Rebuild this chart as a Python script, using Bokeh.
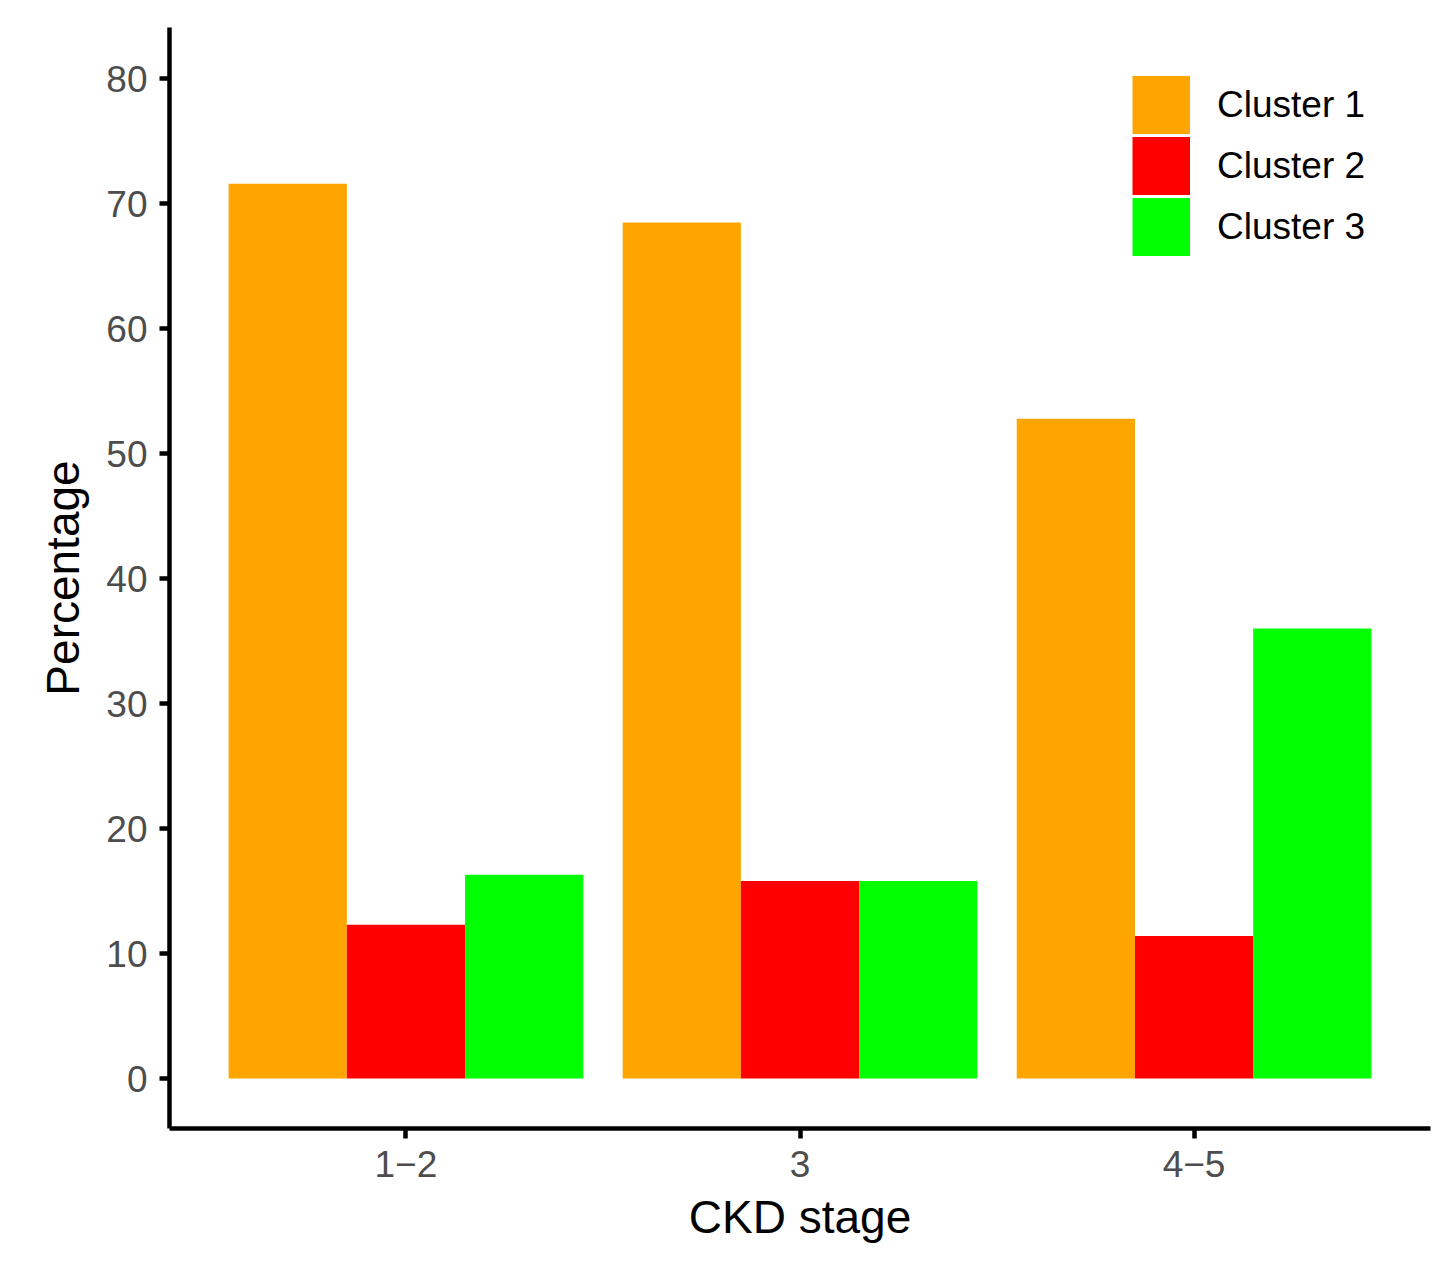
from bokeh.plotting import figure
from bokeh.models import ColumnDataSource, FactorRange, Range1d, FixedTicker, Legend, LegendItem
from bokeh.transform import dodge
from bokeh.embed import file_html
from bokeh.resources import INLINE

# ---- data ----
stages = ["1\u22122", "3", "4\u22125"]
cluster_names = ["Cluster 1", "Cluster 2", "Cluster 3"]
cluster1 = [71.6, 68.5, 52.8]
cluster2 = [12.3, 15.8, 11.4]
cluster3 = [16.3, 15.8, 36.0]
y_ticks = [0, 10, 20, 30, 40, 50, 60, 70, 80]
colors = ["#FFA500", "#FF0000", "#00FF00"]

source = ColumnDataSource(dict(stage=stages, c1=cluster1, c2=cluster2, c3=cluster3))

p = figure(
    width=1447, height=1262,
    x_range=FactorRange(factors=stages, range_padding=0.2 / 3, range_padding_units="percent"),
    y_range=Range1d(-4, 84.1),
    output_backend="svg", toolbar_location=None,
    min_border_left=169, min_border_right=17, min_border_top=27, min_border_bottom=134,
    background_fill_color="white", border_fill_color="white",
)

offsets = [-0.3, 0.0, 0.3]
fields = ["c1", "c2", "c3"]
legend_items = []
for off, fld, col, name in zip(offsets, fields, colors, cluster_names):
    p.vbar(x=dodge("stage", off, range=p.x_range), top=fld, bottom=0, width=0.3,
           source=source, fill_color=col, line_alpha=0)
    # hidden proxy used only to draw a square swatch in the legend
    proxy = p.line(x=dodge("stage", off, range=p.x_range), y=fld, source=source,
                   line_color=col, line_width=58, line_cap="butt", visible=False)
    legend_items.append(LegendItem(label=name, renderers=[proxy]))

p.xgrid.visible = False
p.ygrid.visible = False
p.outline_line_color = None

p.yaxis.ticker = FixedTicker(ticks=y_ticks)
p.xaxis.axis_label = "CKD stage"
p.yaxis.axis_label = "Percentage"

for ax in [p.xaxis[0], p.yaxis[0]]:
    ax.axis_line_width = 4.5
    ax.axis_line_color = "black"
    ax.major_tick_line_width = 4.5
    ax.major_tick_line_color = "black"
    ax.major_tick_out = 10
    ax.major_tick_in = 0
    ax.minor_tick_line_color = None
    ax.major_label_text_font = "Liberation Sans"
    ax.major_label_text_font_size = "37px"
    ax.major_label_text_color = "#4D4D4D"
    ax.major_label_standoff = 12
    ax.axis_label_text_font = "Liberation Sans"
    ax.axis_label_text_font_size = "46px"
    ax.axis_label_text_font_style = "normal"
    ax.axis_label_text_color = "black"

p.xaxis.axis_label_standoff = 11
p.yaxis.axis_label_standoff = 14

legend = Legend(
    items=legend_items,
    location="top_right", margin=47, padding=0,
    glyph_width=58, glyph_height=61, spacing=0, label_standoff=27, label_width=166,
    label_text_font="Liberation Sans", label_text_font_size="37px", label_text_color="black",
    border_line_alpha=0, background_fill_alpha=0,
    inactive_fill_alpha=0, click_policy="none",
)
p.add_layout(legend)

open("out.html", "w").write(file_html(p, INLINE))
